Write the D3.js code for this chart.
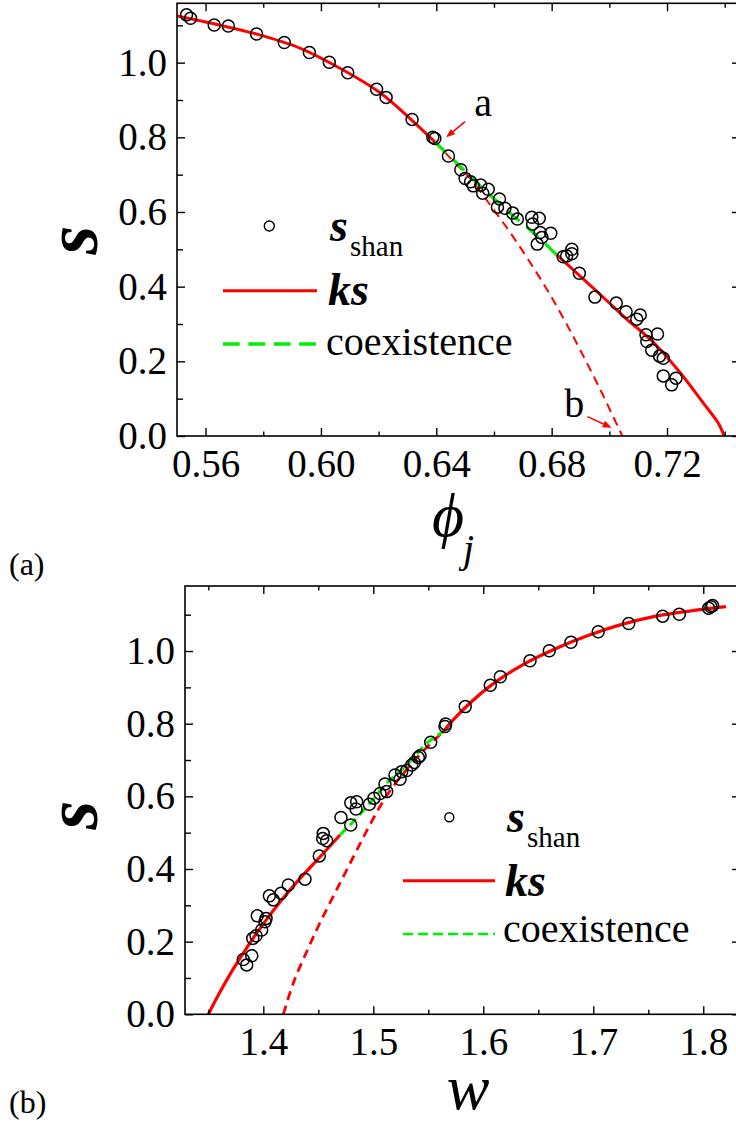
<!DOCTYPE html>
<html>
<head>
<meta charset="utf-8">
<script src="https://cdn.jsdelivr.net/npm/d3@7"></script>
<style>
  body { margin: 0; background: #fff; }
  svg { display: block; }
  svg text { font-family: "Liberation Serif", "DejaVu Serif", "Noto Serif", serif; fill: #000; }
</style>
</head>
<body>
<svg id="fig" width="736" height="1124"></svg>
<script>
// ---------- panel (a): s versus phi_j ----------
const phiShan = [0.5534,0.5548,0.5630,0.5679,0.5777,0.5873,0.5960,0.6029,0.6093,0.6193,0.6226,0.6316,0.6388,0.6395,0.6442,
  0.6485,0.6500,0.6519,0.6528,0.6554,0.6580,0.6561,0.6619,0.6612,0.6638,0.6665,0.6681,0.6731,0.6757,0.6734,0.6760,0.6797,
  0.6766,0.6750,0.6870,0.6852,0.6870,0.6840,0.6896,0.6950,0.7024,0.7058,0.7107,0.7095,0.7127,0.7167,0.7130,0.7147,0.7174,
  0.7187,0.7187,0.7231,0.7216];
const sShanA = [1.128,1.119,1.101,1.098,1.077,1.054,1.027,1.001,0.973,0.929,0.907,0.848,0.800,0.797,0.750,
  0.713,0.690,0.681,0.670,0.672,0.661,0.650,0.635,0.613,0.610,0.597,0.581,0.586,0.583,0.568,0.545,0.543,
  0.532,0.514,0.500,0.482,0.488,0.480,0.436,0.372,0.356,0.333,0.324,0.313,0.271,0.273,0.253,0.230,0.214,
  0.208,0.161,0.155,0.137];

const ksUpperPhi = [0.5501,0.5629,0.5775,0.5927,0.6066,0.6204,0.6308,0.6395];
const ksUpperSA  = [1.125,1.104,1.077,1.039,0.985,0.920,0.851,0.788];
const ksLowerPhi = [0.6818,0.6910,0.6985,0.7060,0.7150,0.7245,0.7326,0.7378,0.7398];
const ksLowerSA  = [0.485,0.420,0.367,0.313,0.253,0.170,0.088,0.034,0.000];
const ksMetaPhi  = [0.6395,0.6448,0.6517,0.6586,0.6666,0.6770,0.6841,0.6898,0.6968,0.7045];
const ksMetaSA   = [0.788,0.745,0.690,0.620,0.534,0.410,0.315,0.232,0.125,0.000];
const coexPhi    = [0.6395,0.6475,0.6552,0.6656,0.6736,0.6818];
const coexSA     = [0.788,0.728,0.670,0.597,0.545,0.485];

const phiMajor = [0.56,0.60,0.64,0.68,0.72];
const phiMinor = [0.58,0.62,0.66,0.70,0.74];

// ---------- panel (b): s versus w ----------
const wShan = [1.5836,1.6064,1.6155,1.6425,1.6600,1.6797,1.7045,1.7322,1.7631,1.7782,1.8049,1.8085,1.8070,
  1.5658,1.5652,1.5522,1.5425,1.5409,1.5373,1.5349,1.5304,1.5258,1.5243,1.5197,1.5106,1.5122,1.5061,1.5006,
  1.4964,1.4795,1.4849,1.4843,1.4706,1.4795,1.4545,1.4540,1.4576,1.4509,1.4379,1.4227,1.4161,1.4055,1.4091,
  1.3945,1.4025,1.4015,1.3985,1.3904,1.3934,1.3895,1.3818,1.3849];
const sShanB = [0.847,0.906,0.929,0.973,1.001,1.024,1.053,1.076,1.096,1.101,1.118,1.125,1.122,
  0.799,0.792,0.749,0.712,0.707,0.693,0.686,0.671,0.668,0.647,0.659,0.634,0.613,0.608,0.595,
  0.578,0.582,0.585,0.565,0.542,0.521,0.498,0.484,0.478,0.436,0.372,0.356,0.333,0.326,0.315,
  0.271,0.264,0.255,0.232,0.209,0.216,0.161,0.151,0.136];

const ksUpperW  = [1.5636,1.5752,1.6055,1.6358,1.6661,1.6964,1.7267,1.7570,1.7873,1.8206];
const ksUpperSB = [0.778,0.819,0.902,0.962,1.007,1.044,1.074,1.096,1.110,1.122];
const ksLowerW  = [1.3500,1.3600,1.3727,1.3849,1.4000,1.4152,1.4334,1.4515,1.4697];
const ksLowerSB = [0.000,0.058,0.125,0.183,0.249,0.309,0.374,0.433,0.4935];
const ksMetaW   = [1.4182,1.4273,1.4395,1.4515,1.4667,1.4818,1.4940,1.5061,1.5182,1.5304,1.5425,1.5545,1.5636];
const ksMetaSB  = [0.000,0.086,0.173,0.252,0.343,0.433,0.505,0.572,0.628,0.674,0.716,0.752,0.778];
const coexW     = [1.4697,1.4788,1.4940,1.5121,1.5304,1.5485,1.5636];
const coexSB    = [0.4935,0.521,0.571,0.636,0.686,0.746,0.778];

const wMajor = [1.4,1.5,1.6,1.7,1.8];
const wMinor = [1.35,1.45,1.55,1.65,1.75];

const sMajor = [0.0,0.2,0.4,0.6,0.8,1.0];
const sMinor = [0.1,0.3,0.5,0.7,0.9,1.1];

const RED = "#ff0000", GREEN = "#00ee00";
const SERIF = '"Liberation Serif", "DejaVu Serif", "Noto Serif", serif';

const svg = d3.select("#fig");
const zip = (xs, ys) => xs.map((v, i) => [v, ys[i]]);

function panel(cfg) {
  const x = d3.scaleLinear().domain(cfg.xDomain).range([cfg.left, cfg.right]);
  const y = d3.scaleLinear().domain(cfg.yDomain).range([cfg.bottom, cfg.top]);
  const g = svg.append("g").attr("font-family", SERIF);

  const clipId = "clip-" + cfg.id;
  g.append("clipPath").attr("id", clipId).append("rect")
    .attr("x", cfg.left).attr("y", cfg.top)
    .attr("width", cfg.right - cfg.left).attr("height", cfg.bottom - cfg.top);

  const line = d3.line().x(d => x(d[0])).y(d => y(d[1])).curve(d3.curveCatmullRom.alpha(0.5));
  const plot = g.append("g").attr("clip-path", `url(#${clipId})`);

  plot.append("path").datum(zip(cfg.metaX, cfg.metaY)).attr("d", line)
    .attr("fill", "none").attr("stroke", RED).attr("stroke-width", cfg.metaWidth)
    .attr("stroke-dasharray", cfg.metaDash);
  plot.append("path").datum(zip(cfg.upX, cfg.upY)).attr("d", line)
    .attr("fill", "none").attr("stroke", RED).attr("stroke-width", cfg.solidWidth);
  plot.append("path").datum(zip(cfg.lowX, cfg.lowY)).attr("d", line)
    .attr("fill", "none").attr("stroke", RED).attr("stroke-width", cfg.solidWidth);
  plot.append("path").datum(zip(cfg.coexX, cfg.coexY)).attr("d", line)
    .attr("fill", "none").attr("stroke", GREEN).attr("stroke-width", cfg.coexWidth)
    .attr("stroke-dasharray", cfg.coexDash);

  plot.selectAll("circle.pt").data(zip(cfg.ptX, cfg.ptY)).join("circle")
    .attr("class", "pt")
    .attr("cx", d => x(d[0])).attr("cy", d => y(d[1])).attr("r", 6)
    .attr("fill", "none").attr("stroke", "#000").attr("stroke-width", 1.5);

  // axes with inward ticks, mirrored on top and right
  const styleAxis = sel => {
    sel.attr("font-family", SERIF).attr("font-size", 39);
    sel.select(".domain").remove();
    sel.selectAll("line").attr("stroke", "#000").attr("stroke-width", 1.4);
    sel.selectAll("text").attr("fill", "#000");
  };

  g.append("g").attr("transform", `translate(0,${cfg.bottom})`)
    .call(d3.axisBottom(x).tickValues(cfg.xMajor).tickSize(-8).tickPadding(13).tickFormat(d3.format(cfg.xFmt)))
    .call(styleAxis);
  g.append("g").attr("transform", `translate(0,${cfg.bottom})`)
    .call(d3.axisBottom(x).tickValues(cfg.xMinor).tickSize(-4.5).tickFormat(""))
    .call(styleAxis);
  g.append("g").attr("transform", `translate(0,${cfg.top})`)
    .call(d3.axisTop(x).tickValues(cfg.xMajor).tickSize(-8).tickFormat(""))
    .call(styleAxis);
  g.append("g").attr("transform", `translate(0,${cfg.top})`)
    .call(d3.axisTop(x).tickValues(cfg.xMinor).tickSize(-4.5).tickFormat(""))
    .call(styleAxis);
  g.append("g").attr("transform", `translate(${cfg.left},0)`)
    .call(d3.axisLeft(y).tickValues(sMajor).tickSize(-8).tickPadding(10).tickFormat(d3.format(".1f")))
    .call(styleAxis);
  g.append("g").attr("transform", `translate(${cfg.left},0)`)
    .call(d3.axisLeft(y).tickValues(sMinor.filter(v => v <= cfg.yDomain[1])).tickSize(-6).tickFormat(""))
    .call(styleAxis);
  g.append("g").attr("transform", `translate(${cfg.right},0)`)
    .call(d3.axisRight(y).tickValues(sMajor).tickSize(-8).tickFormat(""))
    .call(styleAxis);

  g.append("rect").attr("x", cfg.left).attr("y", cfg.top)
    .attr("width", cfg.right - cfg.left).attr("height", cfg.bottom - cfg.top)
    .attr("fill", "none").attr("stroke", "#000").attr("stroke-width", 1.6);

  // y title
  g.append("text")
    .attr("transform", `translate(97,${cfg.yTitleY}) rotate(-90)`)
    .attr("text-anchor", "middle").attr("font-size", 74)
    .attr("font-style", "italic").attr("font-weight", "bold").text("s");

  // legend
  const L = cfg.legend;
  g.append("circle").attr("cx", L.cx).attr("cy", L.cy).attr("r", L.r)
    .attr("fill", "none").attr("stroke", "#000").attr("stroke-width", 1.4);
  g.append("text").attr("x", L.tx).attr("y", L.sBase).attr("font-size", 46)
    .attr("font-style", "italic").attr("font-weight", "bold").text("s");
  g.append("text").attr("x", L.tx + 20).attr("y", L.sBase + 15).attr("font-size", 29).text("shan");
  g.append("line").attr("x1", L.x1).attr("x2", L.x2).attr("y1", L.ksY).attr("y2", L.ksY)
    .attr("stroke", RED).attr("stroke-width", 3);
  g.append("text").attr("x", L.tx - 2).attr("y", L.ksBase).attr("font-size", 46)
    .attr("font-style", "italic").attr("font-weight", "bold").text("ks");
  g.append("line").attr("x1", L.x1).attr("x2", L.x2).attr("y1", L.coY).attr("y2", L.coY)
    .attr("stroke", GREEN).attr("stroke-width", L.coW).attr("stroke-dasharray", L.coDash);
  g.append("text").attr("x", L.tx - 4).attr("y", L.coBase).attr("font-size", 40).text("coexistence");

  return { x, y, g };
}

// panel (a)
const A = panel({
  id: "a", left: 177, right: 740, top: 3.3, bottom: 436,
  xDomain: [0.5501, 0.7453], yDomain: [0, 1.159],
  xMajor: phiMajor, xMinor: phiMinor, xFmt: ".2f",
  ptX: phiShan, ptY: sShanA,
  upX: ksUpperPhi, upY: ksUpperSA, lowX: ksLowerPhi, lowY: ksLowerSA,
  metaX: ksMetaPhi, metaY: ksMetaSA, coexX: coexPhi, coexY: coexSA,
  solidWidth: 3, metaWidth: 2, metaDash: "9,6", coexWidth: 3.2, coexDash: "16,9",
  yTitleY: 240,
  legend: { cx: 269.3, cy: 226, r: 5, tx: 330, sBase: 241, x1: 223, x2: 317,
            ksY: 290.7, ksBase: 305, coY: 344, coBase: 355, coW: 3.5, coDash: "16.7,8.7" }
});

// x title (a): phi_j
A.g.append("text").attr("x", 448).attr("y", 536).attr("text-anchor", "middle")
  .attr("font-size", 62).attr("font-style", "italic").text("\u03D5");
A.g.append("text").attr("x", 463).attr("y", 562)
  .attr("font-size", 40).attr("font-style", "italic").text("j");

// annotations a and b
const arrow = (g, x1, y1, x2, y2) => {
  const ang = Math.atan2(y2 - y1, x2 - x1), L = 9, W = 3.5;
  const bx = x2 - L * Math.cos(ang), by = y2 - L * Math.sin(ang);
  g.append("line").attr("x1", x1).attr("y1", y1).attr("x2", bx).attr("y2", by)
    .attr("stroke", RED).attr("stroke-width", 1.5);
  g.append("path")
    .attr("d", `M${x2},${y2}L${bx - W * Math.sin(ang)},${by + W * Math.cos(ang)}L${bx + W * Math.sin(ang)},${by - W * Math.cos(ang)}Z`)
    .attr("fill", RED);
};
arrow(A.g, A.x(0.6500), A.y(0.842), A.x(0.6434), A.y(0.800));
A.g.append("text").attr("x", A.x(0.6562)).attr("y", A.y(0.856)).attr("text-anchor", "middle")
  .attr("font-size", 40).text("a");
arrow(A.g, A.x(0.6924), A.y(0.052), A.x(0.7008), A.y(0.022));
A.g.append("text").attr("x", A.x(0.6878)).attr("y", A.y(0.051)).attr("text-anchor", "middle")
  .attr("font-size", 40).text("b");

svg.append("text").attr("x", 9).attr("y", 575).attr("font-size", 32).attr("font-family", SERIF).text("(a)");

// panel (b)
const B = panel({
  id: "b", left: 185, right: 740, top: 586, bottom: 1014.3,
  xDomain: [1.3288, 1.8334], yDomain: [0, 1.179],
  xMajor: wMajor, xMinor: wMinor, xFmt: ".1f",
  ptX: wShan, ptY: sShanB,
  upX: ksUpperW, upY: ksUpperSB, lowX: ksLowerW, lowY: ksLowerSB,
  metaX: ksMetaW, metaY: ksMetaSB, coexX: coexW, coexY: coexSB,
  solidWidth: 3.2, metaWidth: 2.8, metaDash: "9,6", coexWidth: 3, coexDash: "9,5",
  yTitleY: 815,
  legend: { cx: 449.3, cy: 817.3, r: 4.5, tx: 507, sBase: 832, x1: 403, x2: 495,
            ksY: 880.7, ksBase: 896, coY: 934, coBase: 942, coW: 2.5, coDash: "10,5" }
});

B.g.append("text").attr("x", 468).attr("y", 1109).attr("text-anchor", "middle")
  .attr("font-size", 64).attr("font-style", "italic").text("w");

svg.append("text").attr("x", 9).attr("y", 1113).attr("font-size", 32).attr("font-family", SERIF).text("(b)");
</script>
</body>
</html>
